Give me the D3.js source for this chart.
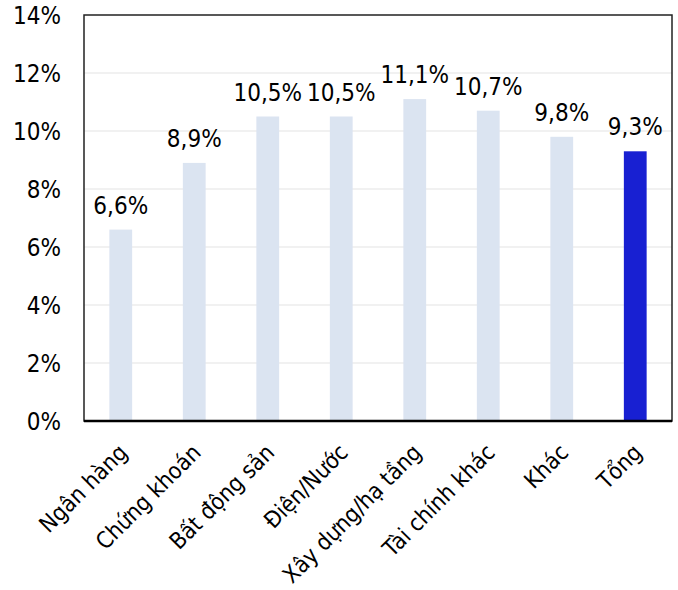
<!DOCTYPE html>
<html>
<head>
<meta charset="utf-8">
<script src="https://cdn.jsdelivr.net/npm/d3@7"></script>
<style>
  html, body { margin: 0; padding: 0; background: #fff; }
  svg text { font-family: "DejaVu Sans Condensed", "DejaVu Sans", sans-serif; font-stretch: condensed; fill: #000; }
</style>
</head>
<body>
<svg id="chart" width="678" height="590"></svg>
<script>
// Sector categories and their values (%)
const categories = ["Ngân hàng", "Chứng khoán", "Bất động sản", "Điện/Nước", "Xây dựng/hạ tầng", "Tài chính khác", "Khác", "Tổng"];
const values = [6.6, 8.9, 10.5, 10.5, 11.1, 10.7, 9.8, 9.3];
const valueLabels = ["6,6%", "8,9%", "10,5%", "10,5%", "11,1%", "10,7%", "9,8%", "9,3%"];
const yTicks = [0, 2, 4, 6, 8, 10, 12, 14];
const yTickLabels = ["0%", "2%", "4%", "6%", "8%", "10%", "12%", "14%"];

const svg = d3.select("#chart");
const plot = { left: 84, top: 15, right: 672, bottom: 421 };
const fontSize = 24;

const x = d3.scaleBand().domain(categories).range([plot.left, plot.right]).paddingInner(0.69).paddingOuter(0.345);
const y = d3.scaleLinear().domain([0, 14]).range([plot.bottom, plot.top]);

// Horizontal gridlines
svg.append("g").selectAll("line").data(yTicks.filter(t => t > 0 && t < 14)).join("line")
  .attr("x1", plot.left).attr("x2", plot.right)
  .attr("y1", d => y(d)).attr("y2", d => y(d))
  .attr("stroke", "#ececec").attr("stroke-width", 1.5);

// Bars
svg.append("g").selectAll("rect").data(categories).join("rect")
  .attr("x", d => x(d))
  .attr("width", x.bandwidth())
  .attr("y", (d, i) => y(values[i]))
  .attr("height", (d, i) => y(0) - y(values[i]))
  .attr("fill", (d, i) => i === categories.length - 1 ? "#1820d2" : "#dbe4f1");

// Value labels
svg.append("g").selectAll("text").data(categories).join("text")
  .attr("x", d => x(d) + x.bandwidth() / 2)
  .attr("y", (d, i) => y(values[i]) - 16)
  .attr("text-anchor", "middle")
  .attr("font-size", fontSize)
  .text((d, i) => valueLabels[i]);

// Plot frame
svg.append("rect")
  .attr("x", plot.left).attr("y", plot.top)
  .attr("width", plot.right - plot.left).attr("height", plot.bottom - plot.top)
  .attr("fill", "none").attr("stroke", "#222").attr("stroke-width", 1.5);
svg.append("line")
  .attr("x1", plot.left).attr("x2", plot.right)
  .attr("y1", plot.bottom).attr("y2", plot.bottom)
  .attr("stroke", "#000").attr("stroke-width", 2.5);

// Y axis labels
const yAxis = d3.axisLeft(y).tickValues(yTicks).tickSize(0).tickPadding(10)
  .tickFormat((d, i) => yTickLabels[i]);
const gy = svg.append("g").attr("transform", `translate(${plot.left - 13},0)`).call(yAxis);
gy.select(".domain").remove();
gy.selectAll("text").attr("font-size", fontSize).attr("font-family", null).attr("dy", "0.36em");

// X axis labels, rotated
const xAxis = d3.axisBottom(x).tickSize(0).tickPadding(0);
const gx = svg.append("g").attr("transform", `translate(0,${plot.bottom})`).call(xAxis);
gx.select(".domain").remove();
gx.selectAll("text")
  .attr("font-size", 23).attr("font-family", null)
  .attr("text-anchor", "end")
  .attr("dy", null).attr("y", 0)
  .attr("transform", "translate(8,33) rotate(-45)");
</script>
</body>
</html>
